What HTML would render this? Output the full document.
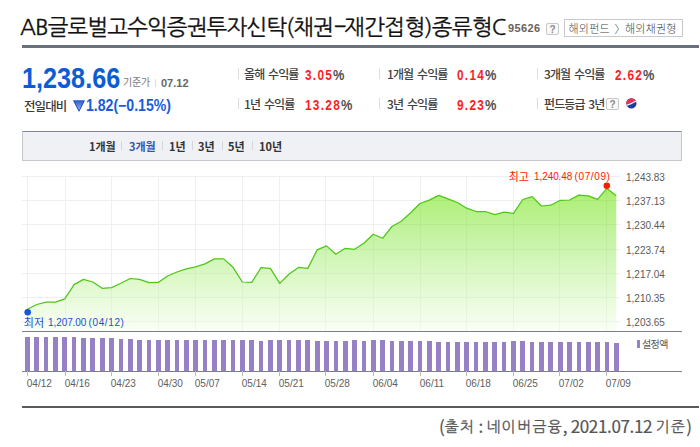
<!DOCTYPE html>
<html><head><meta charset="utf-8">
<style>
*{margin:0;padding:0;box-sizing:border-box}
html,body{width:700px;height:447px;background:#fff;overflow:hidden}
body{position:relative;font-family:"Liberation Sans","Noto Sans CJK KR",sans-serif;color:#333}
.a{position:absolute;white-space:nowrap}
.title{left:20px;top:10.5px;font-family:"NanumGothic",sans-serif;font-size:22px;color:#111;letter-spacing:-0.65px;line-height:32px;-webkit-text-stroke:0.3px #111}
.code{left:508px;top:21px;font-family:"Liberation Sans",sans-serif;font-weight:bold;font-size:11px;color:#6a6259;line-height:14px;letter-spacing:0.4px}
.qbox{width:13px;height:12px;border:1px solid #c8c8c8;border-radius:2px;background:#fafafa;font-family:"Liberation Sans",sans-serif;font-size:10px;font-weight:bold;color:#8a8a8a;text-align:center;line-height:11px}
.crumb{left:564px;top:19px;width:119px;height:18px;border:1px solid #c9c9c9;font-family:"Noto Sans CJK KR",sans-serif;font-size:11px;letter-spacing:0.5px;color:#555;line-height:16px;padding-left:5px}
.ct{top:20px;font-family:"Noto Sans CJK KR",sans-serif;font-weight:300;font-size:11px;letter-spacing:0.2px;color:#444;line-height:16px}
.hr{left:22px;top:45px;width:677px;height:3px;background:#6a717e}
.price{left:22.4px;top:61px;font-family:"Liberation Sans",sans-serif;font-weight:bold;font-size:29px;color:#0c5cd6;line-height:34px;transform:scaleX(0.87);transform-origin:0 0}
.std{left:123px;top:75px;font-family:"Noto Sans CJK KR",sans-serif;font-size:10px;letter-spacing:-0.2px;color:#777;line-height:14px}
.vsep{width:1px;background:#ddd}
.date{left:161px;top:76px;font-family:"Liberation Sans",sans-serif;font-weight:bold;font-size:11px;color:#666;line-height:14px}
.prev{left:24px;top:97px;font-family:"Noto Sans CJK KR",sans-serif;font-weight:500;font-size:12.5px;letter-spacing:-0.9px;color:#3a3a3a;line-height:18px}
.chg{left:86px;top:96px;font-family:"Liberation Sans",sans-serif;font-weight:bold;font-size:16px;color:#1a5bd6;line-height:20px;transform:scaleX(0.88);transform-origin:0 0}
.lb{font-family:"Noto Sans CJK KR",sans-serif;font-weight:500;font-size:12px;color:#404040;line-height:16px;letter-spacing:-0.9px;word-spacing:2px}
.rv{font-family:"Liberation Sans",sans-serif;font-weight:bold;font-size:14.8px;color:#ff1e1e;line-height:16px;letter-spacing:1.6px;transform:scaleX(0.8);transform-origin:0 0}
.rv span{display:inline-block;transform:scaleX(1.08);transform-origin:0 0;color:#505050;letter-spacing:0;margin-left:0px;font-size:14.8px;font-weight:bold}
.tabs{left:22px;top:131px;width:660px;height:30px;background:#f0f1f5;border:1px solid #c8c9cf;border-top:1px solid #8286a0}
.tab{font-family:"Noto Sans CJK KR",sans-serif;font-weight:bold;font-size:11px;color:#333;line-height:14px;letter-spacing:0px}
.tsep{width:1px;height:9px;background:#d5d6dc}
.xl{position:absolute;top:378px;font-family:"Liberation Sans",sans-serif;font-size:10px;color:#606060;line-height:12px;}
.yl{position:absolute;left:626px;font-family:"Liberation Sans",sans-serif;font-size:10px;color:#5a5a5a;line-height:12px}
.foot{left:439px;top:415px;font-family:"Noto Sans CJK KR",sans-serif;font-size:17px;color:#555;line-height:22px;letter-spacing:-0.35px;-webkit-text-stroke:0.2px #555}
.fh{font-family:"NanumGothic",sans-serif;font-size:15px;letter-spacing:1.2px;-webkit-text-stroke:0.25px #555;position:relative;top:-1px}
.hl{font-family:"Noto Sans CJK KR",sans-serif;font-size:11px;line-height:12px}
.dl{font-family:"Liberation Sans",sans-serif;font-size:10px;line-height:12px;letter-spacing:-0.1px}
.bot{left:22px;top:406px;width:677px;height:2px;background:#5a5a5a}
</style></head><body>
<div class="a title"><span style="letter-spacing:-0.82px">AB글로벌고수익증권투자신탁(채권</span><span style="display:inline-block;letter-spacing:0;transform:scaleX(1.75);margin:0 0.8px 0 2.6px">-</span>재간접형)종류형C</div>
<div class="a code">95626</div>
<div class="a qbox" style="left:546px;top:23px">?</div>
<div class="a crumb"></div>
<div class="a ct" style="left:568.5px">해외펀드</div>
<div class="a ct" style="left:614.5px">〉</div>
<div class="a ct" style="left:625px">해외채권형</div>
<div class="a hr"></div>

<div class="a price">1,238.66</div>
<div class="a std">기준가</div>
<div class="a vsep" style="left:155px;top:79px;height:8px"></div>
<div class="a date">07.12</div>
<div class="a prev">전일대비</div>
<svg class="a" style="left:73px;top:100px" width="12" height="12" viewBox="0 0 12 12"><defs><linearGradient id="tg" x1="0" y1="0" x2="0" y2="1"><stop offset="0" stop-color="#2a5bcc"/><stop offset="1" stop-color="#a9bdf0"/></linearGradient></defs><path d="M0.3,0.5 L11.7,0.5 L6,11.8 Z" fill="url(#tg)"/><path d="M0.8,0.9 L6,11.2 L11.2,0.9" fill="none" stroke="#1f4fc4" stroke-width="1"/><line x1="0.5" y1="0.5" x2="11.5" y2="0.5" stroke="#5a80dc" stroke-width="1"/></svg>
<div class="a chg">1.82(−0.15%)</div>

<div class="a vsep" style="left:238px;top:68px;height:11px"></div>
<div class="a lb" style="left:244px;top:66px">올해 수익률</div>
<div class="a rv" style="left:305px;top:66.5px">3.05<span>%</span></div>
<div class="a vsep" style="left:238px;top:98px;height:11px"></div>
<div class="a lb" style="left:244px;top:96px">1년 수익률</div>
<div class="a rv" style="left:305px;top:96.5px">13.28<span>%</span></div>

<div class="a vsep" style="left:379px;top:68px;height:11px"></div>
<div class="a lb" style="left:387px;top:66px">1개월 수익률</div>
<div class="a rv" style="left:457px;top:66.5px">0.14<span>%</span></div>
<div class="a vsep" style="left:379px;top:98px;height:11px"></div>
<div class="a lb" style="left:387px;top:96px">3년 수익률</div>
<div class="a rv" style="left:457px;top:96.5px">9.23<span>%</span></div>

<div class="a vsep" style="left:537px;top:68px;height:11px"></div>
<div class="a lb" style="left:544px;top:66px">3개월 수익률</div>
<div class="a rv" style="left:615px;top:66.5px">2.62<span>%</span></div>
<div class="a vsep" style="left:537px;top:98px;height:11px"></div>
<div class="a lb" style="left:544px;top:96px">펀드등급 3년</div>
<div class="a qbox" style="left:606px;top:98px">?</div>
<svg class="a" style="left:625.5px;top:98.3px" width="11" height="11" viewBox="0 0 11 11"><defs><clipPath id="cc"><circle cx="5.35" cy="5.45" r="5.15"/></clipPath></defs><g clip-path="url(#cc)"><rect width="11" height="11" fill="#1d3d9e"/><path d="M0,0 H11 V2.6 C8,2.6 6,6 0,6.6 Z" fill="#ee2f4e"/><path d="M0,6.6 C6,6 8,2.6 11,2.6 V3.7 C8,3.7 6,7.1 0,7.7 Z" fill="#fff"/></g></svg>

<div class="a tabs"></div>
<div class="a tab" style="left:89px;top:139px">1개월</div>
<div class="a tsep" style="left:121px;top:141px"></div>
<div class="a tab" style="left:129px;top:139px;color:#3652b3">3개월</div>
<div class="a tsep" style="left:162px;top:141px"></div>
<div class="a tab" style="left:169px;top:139px">1년</div>
<div class="a tsep" style="left:192px;top:141px"></div>
<div class="a tab" style="left:198px;top:139px">3년</div>
<div class="a tsep" style="left:222px;top:141px"></div>
<div class="a tab" style="left:228px;top:139px">5년</div>
<div class="a tsep" style="left:252px;top:141px"></div>
<div class="a tab" style="left:259px;top:139px">10년</div>

<svg class="a" style="left:0;top:0" width="700" height="447" viewBox="0 0 700 447">
<defs><clipPath id="ac"><path d="M27.40,331 L27.40,309.3 L36.75,304.5 L46.09,302.2 L55.44,302.2 L64.79,298.8 L74.13,284.6 L83.48,279.4 L92.83,282.0 L102.18,288.3 L111.52,287.6 L120.87,283.3 L130.22,278.5 L139.56,279.3 L148.91,282.7 L158.26,282.4 L167.60,276.0 L176.95,272.0 L186.30,268.9 L195.65,266.8 L204.99,263.9 L214.34,258.9 L223.69,258.9 L233.03,267.3 L242.38,282.0 L251.73,282.4 L261.07,267.6 L270.42,268.4 L279.77,283.4 L289.12,274.0 L298.46,267.4 L307.81,268.4 L317.16,249.9 L326.50,245.9 L335.85,254.2 L345.20,248.3 L354.54,249.3 L363.89,243.2 L373.24,234.2 L382.59,238.3 L391.93,226.5 L401.28,221.2 L410.63,212.8 L419.97,203.5 L429.32,200.1 L438.67,195.4 L448.01,198.8 L457.36,202.5 L466.71,208.2 L476.06,211.5 L485.40,211.5 L494.75,214.6 L504.10,212.2 L513.44,213.3 L522.79,199.5 L532.14,196.6 L541.48,206.0 L550.83,205.2 L560.18,200.3 L569.53,200.0 L578.87,195.1 L588.22,195.8 L597.57,199.4 L606.91,188.4 L616.26,195.8 L616.26,331 Z"/></clipPath><linearGradient id="fg" x1="0" y1="176" x2="0" y2="331" gradientUnits="userSpaceOnUse"><stop offset="0" stop-color="#a4ee62"/><stop offset="0.4" stop-color="#c6f3a6"/><stop offset="1" stop-color="#fafff6"/></linearGradient></defs>

<g stroke="#000" opacity="0.06" stroke-width="1">
<line x1="22" y1="176.5" x2="620" y2="176.5"/><line x1="22" y1="200.5" x2="620" y2="200.5"/><line x1="22" y1="224.5" x2="620" y2="224.5"/><line x1="22" y1="249.5" x2="620" y2="249.5"/><line x1="22" y1="273.5" x2="620" y2="273.5"/><line x1="22" y1="297.5" x2="620" y2="297.5"/><line x1="22" y1="321.5" x2="620" y2="321.5"/>
<line x1="27.5" y1="176" x2="27.5" y2="331"/><line x1="65.5" y1="176" x2="65.5" y2="331"/><line x1="111.5" y1="176" x2="111.5" y2="331"/><line x1="158.5" y1="176" x2="158.5" y2="331"/><line x1="195.5" y1="176" x2="195.5" y2="331"/><line x1="242.5" y1="176" x2="242.5" y2="331"/><line x1="279.5" y1="176" x2="279.5" y2="331"/><line x1="325.5" y1="176" x2="325.5" y2="331"/><line x1="373.5" y1="176" x2="373.5" y2="331"/><line x1="420.5" y1="176" x2="420.5" y2="331"/><line x1="466.5" y1="176" x2="466.5" y2="331"/><line x1="513.5" y1="176" x2="513.5" y2="331"/><line x1="559.5" y1="176" x2="559.5" y2="331"/><line x1="606.5" y1="176" x2="606.5" y2="331"/>
</g>
<path d="M27.40,331 L27.40,309.3 L36.75,304.5 L46.09,302.2 L55.44,302.2 L64.79,298.8 L74.13,284.6 L83.48,279.4 L92.83,282.0 L102.18,288.3 L111.52,287.6 L120.87,283.3 L130.22,278.5 L139.56,279.3 L148.91,282.7 L158.26,282.4 L167.60,276.0 L176.95,272.0 L186.30,268.9 L195.65,266.8 L204.99,263.9 L214.34,258.9 L223.69,258.9 L233.03,267.3 L242.38,282.0 L251.73,282.4 L261.07,267.6 L270.42,268.4 L279.77,283.4 L289.12,274.0 L298.46,267.4 L307.81,268.4 L317.16,249.9 L326.50,245.9 L335.85,254.2 L345.20,248.3 L354.54,249.3 L363.89,243.2 L373.24,234.2 L382.59,238.3 L391.93,226.5 L401.28,221.2 L410.63,212.8 L419.97,203.5 L429.32,200.1 L438.67,195.4 L448.01,198.8 L457.36,202.5 L466.71,208.2 L476.06,211.5 L485.40,211.5 L494.75,214.6 L504.10,212.2 L513.44,213.3 L522.79,199.5 L532.14,196.6 L541.48,206.0 L550.83,205.2 L560.18,200.3 L569.53,200.0 L578.87,195.1 L588.22,195.8 L597.57,199.4 L606.91,188.4 L616.26,195.8 L616.26,331 Z" fill="url(#fg)"/>
<g stroke="#000" opacity="0.035" stroke-width="1" clip-path="url(#ac)">
<line x1="22" y1="176.5" x2="620" y2="176.5"/><line x1="22" y1="200.5" x2="620" y2="200.5"/><line x1="22" y1="224.5" x2="620" y2="224.5"/><line x1="22" y1="249.5" x2="620" y2="249.5"/><line x1="22" y1="273.5" x2="620" y2="273.5"/><line x1="22" y1="297.5" x2="620" y2="297.5"/><line x1="22" y1="321.5" x2="620" y2="321.5"/>
<line x1="27.5" y1="176" x2="27.5" y2="331"/><line x1="65.5" y1="176" x2="65.5" y2="331"/><line x1="111.5" y1="176" x2="111.5" y2="331"/><line x1="158.5" y1="176" x2="158.5" y2="331"/><line x1="195.5" y1="176" x2="195.5" y2="331"/><line x1="242.5" y1="176" x2="242.5" y2="331"/><line x1="279.5" y1="176" x2="279.5" y2="331"/><line x1="325.5" y1="176" x2="325.5" y2="331"/><line x1="373.5" y1="176" x2="373.5" y2="331"/><line x1="420.5" y1="176" x2="420.5" y2="331"/><line x1="466.5" y1="176" x2="466.5" y2="331"/><line x1="513.5" y1="176" x2="513.5" y2="331"/><line x1="559.5" y1="176" x2="559.5" y2="331"/><line x1="606.5" y1="176" x2="606.5" y2="331"/>
</g>

<polyline points="27.40,309.3 36.75,304.5 46.09,302.2 55.44,302.2 64.79,298.8 74.13,284.6 83.48,279.4 92.83,282.0 102.18,288.3 111.52,287.6 120.87,283.3 130.22,278.5 139.56,279.3 148.91,282.7 158.26,282.4 167.60,276.0 176.95,272.0 186.30,268.9 195.65,266.8 204.99,263.9 214.34,258.9 223.69,258.9 233.03,267.3 242.38,282.0 251.73,282.4 261.07,267.6 270.42,268.4 279.77,283.4 289.12,274.0 298.46,267.4 307.81,268.4 317.16,249.9 326.50,245.9 335.85,254.2 345.20,248.3 354.54,249.3 363.89,243.2 373.24,234.2 382.59,238.3 391.93,226.5 401.28,221.2 410.63,212.8 419.97,203.5 429.32,200.1 438.67,195.4 448.01,198.8 457.36,202.5 466.71,208.2 476.06,211.5 485.40,211.5 494.75,214.6 504.10,212.2 513.44,213.3 522.79,199.5 532.14,196.6 541.48,206.0 550.83,205.2 560.18,200.3 569.53,200.0 578.87,195.1 588.22,195.8 597.57,199.4 606.91,188.4 616.26,195.8" fill="none" stroke="#4cc814" stroke-width="1.25" stroke-linejoin="round"/>
<line x1="22" y1="331.5" x2="682" y2="331.5" stroke="#7b7f8a" stroke-width="1"/>
<g fill="#9781c5" shape-rendering="crispEdges"><rect x="25.05" y="337" width="4.7" height="34"/><rect x="34.40" y="337" width="4.7" height="34"/><rect x="43.74" y="337" width="4.7" height="34"/><rect x="53.09" y="337" width="4.7" height="34"/><rect x="62.44" y="337" width="4.7" height="34"/><rect x="71.78" y="337" width="4.7" height="34"/><rect x="81.13" y="338" width="4.7" height="33"/><rect x="90.48" y="338" width="4.7" height="33"/><rect x="99.83" y="338" width="4.7" height="33"/><rect x="109.17" y="338" width="4.7" height="33"/><rect x="118.52" y="339" width="4.7" height="32"/><rect x="127.87" y="339" width="4.7" height="32"/><rect x="137.21" y="340" width="4.7" height="31"/><rect x="146.56" y="340" width="4.7" height="31"/><rect x="155.91" y="340" width="4.7" height="31"/><rect x="165.25" y="340" width="4.7" height="31"/><rect x="174.60" y="340" width="4.7" height="31"/><rect x="183.95" y="340" width="4.7" height="31"/><rect x="193.30" y="340" width="4.7" height="31"/><rect x="202.64" y="340" width="4.7" height="31"/><rect x="211.99" y="340" width="4.7" height="31"/><rect x="221.34" y="340" width="4.7" height="31"/><rect x="230.68" y="340" width="4.7" height="31"/><rect x="240.03" y="340" width="4.7" height="31"/><rect x="249.38" y="340" width="4.7" height="31"/><rect x="258.72" y="341" width="4.7" height="30"/><rect x="268.07" y="340" width="4.7" height="31"/><rect x="277.42" y="340" width="4.7" height="31"/><rect x="286.77" y="340" width="4.7" height="31"/><rect x="296.11" y="340" width="4.7" height="31"/><rect x="305.46" y="340" width="4.7" height="31"/><rect x="314.81" y="341" width="4.7" height="30"/><rect x="324.15" y="341" width="4.7" height="30"/><rect x="333.50" y="341" width="4.7" height="30"/><rect x="342.85" y="341" width="4.7" height="30"/><rect x="352.19" y="340" width="4.7" height="31"/><rect x="361.54" y="341" width="4.7" height="30"/><rect x="370.89" y="340" width="4.7" height="31"/><rect x="380.24" y="340" width="4.7" height="31"/><rect x="389.58" y="341" width="4.7" height="30"/><rect x="398.93" y="341" width="4.7" height="30"/><rect x="408.28" y="341" width="4.7" height="30"/><rect x="417.62" y="341" width="4.7" height="30"/><rect x="426.97" y="341" width="4.7" height="30"/><rect x="436.32" y="342" width="4.7" height="29"/><rect x="445.66" y="342" width="4.7" height="29"/><rect x="455.01" y="342" width="4.7" height="29"/><rect x="464.36" y="342" width="4.7" height="29"/><rect x="473.71" y="342" width="4.7" height="29"/><rect x="483.05" y="342" width="4.7" height="29"/><rect x="492.40" y="342" width="4.7" height="29"/><rect x="501.75" y="342" width="4.7" height="29"/><rect x="511.09" y="341" width="4.7" height="30"/><rect x="520.44" y="341" width="4.7" height="30"/><rect x="529.79" y="342" width="4.7" height="29"/><rect x="539.13" y="342" width="4.7" height="29"/><rect x="548.48" y="342" width="4.7" height="29"/><rect x="557.83" y="342" width="4.7" height="29"/><rect x="567.18" y="342" width="4.7" height="29"/><rect x="576.52" y="342" width="4.7" height="29"/><rect x="585.87" y="342" width="4.7" height="29"/><rect x="595.22" y="342" width="4.7" height="29"/><rect x="604.56" y="342" width="4.7" height="29"/><rect x="613.91" y="343" width="4.7" height="28"/></g>
<rect x="637" y="340" width="3" height="8" fill="#9781c5"/>
<line x1="22" y1="371.5" x2="682" y2="371.5" stroke="#7b7f8a" stroke-width="1"/>
<g stroke="#bbb" stroke-width="1"><line x1="27.5" y1="371" x2="27.5" y2="376"/><line x1="65.5" y1="371" x2="65.5" y2="376"/><line x1="111.5" y1="371" x2="111.5" y2="376"/><line x1="158.5" y1="371" x2="158.5" y2="376"/><line x1="195.5" y1="371" x2="195.5" y2="376"/><line x1="242.5" y1="371" x2="242.5" y2="376"/><line x1="279.5" y1="371" x2="279.5" y2="376"/><line x1="325.5" y1="371" x2="325.5" y2="376"/><line x1="373.5" y1="371" x2="373.5" y2="376"/><line x1="420.5" y1="371" x2="420.5" y2="376"/><line x1="466.5" y1="371" x2="466.5" y2="376"/><line x1="513.5" y1="371" x2="513.5" y2="376"/><line x1="559.5" y1="371" x2="559.5" y2="376"/><line x1="606.5" y1="371" x2="606.5" y2="376"/></g>
<circle cx="606.8" cy="185.8" r="3.3" fill="#ff1a00"/>
<circle cx="27.7" cy="312.3" r="3.3" fill="#1a55d6"/>
</svg>
<div class="a hl" style="left:508.7px;top:170px;color:#ff1a00">최고</div>
<div class="a dl" style="left:534.1px;top:171.3px;color:#ff1a00">1,240.48</div>
<div class="a dl" style="left:574.6px;top:171.3px;color:#ff1a00;letter-spacing:0.6px">(07/09)</div>
<div class="a hl" style="left:23.8px;top:316px;color:#1a4fcf">최저</div>
<div class="a dl" style="left:48.1px;top:317.3px;color:#1a4fcf">1,207.00</div>
<div class="a dl" style="left:88.6px;top:317.3px;color:#1a4fcf;letter-spacing:0.6px">(04/12)</div>
<div class="yl" style="top:172px">1,243.83</div>
<div class="yl" style="top:196px">1,237.13</div>
<div class="yl" style="top:220px">1,230.44</div>
<div class="yl" style="top:245px">1,223.74</div>
<div class="yl" style="top:269px">1,217.04</div>
<div class="yl" style="top:293px">1,210.35</div>
<div class="yl" style="top:317px">1,203.65</div>
<div class="a" style="left:642px;top:338px;font-family:'Noto Sans CJK KR',sans-serif;font-size:10px;letter-spacing:-0.6px;color:#555;line-height:12px">설정액</div>
<div class="xl" style="left:26.8px">04/12</div><div class="xl" style="left:64.8px">04/16</div><div class="xl" style="left:110.8px">04/23</div><div class="xl" style="left:157.8px">04/30</div><div class="xl" style="left:194.8px">05/07</div><div class="xl" style="left:241.8px">05/14</div><div class="xl" style="left:278.8px">05/21</div><div class="xl" style="left:324.8px">05/28</div><div class="xl" style="left:372.8px">06/04</div><div class="xl" style="left:419.8px">06/11</div><div class="xl" style="left:465.8px">06/18</div><div class="xl" style="left:512.8px">06/25</div><div class="xl" style="left:558.8px">07/02</div><div class="xl" style="left:605.8px">07/09</div>
<div class="a bot"></div>
<div class="a foot">(<span class="fh">출처</span> : <span class="fh">네이버금융</span>, 2021.07.12 <span class="fh">기준</span>)</div>
</body></html>
